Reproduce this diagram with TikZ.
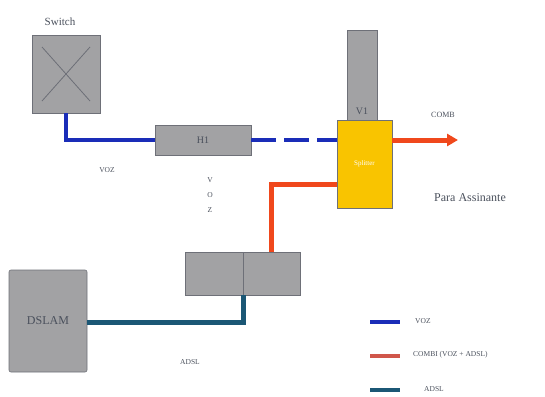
\documentclass[tikz,border=0pt]{standalone}
\usepackage{fontspec}
\setmainfont{Liberation Serif}
\usetikzlibrary{arrows.meta}
\definecolor{boxgray}{HTML}{A2A2A4}
\definecolor{edgegray}{HTML}{6E7078}
\definecolor{vozblue}{HTML}{1A2DB8}
\definecolor{combred}{HTML}{F0481C}
\definecolor{legred}{HTML}{D0564A}
\definecolor{adslteal}{HTML}{1B5775}
\definecolor{splyellow}{HTML}{F9C400}
\definecolor{txtgray}{HTML}{4A505C}
\tikzset{
  graybox/.style={draw=edgegray, line width=0.6pt, fill=boxgray, inner sep=0pt},
  lbl/.style={text=txtgray, inner sep=0pt, font=\fontsize{7.5}{8}\selectfont},
  vozline/.style={draw=vozblue, line width=4pt},
  combline/.style={draw=combred, line width=5pt},
  adslline/.style={draw=adslteal, line width=5pt},
}
\begin{document}
\begin{tikzpicture}[x=1pt,y=-1pt]
\useasboundingbox (0,0) rectangle (545,396);
% switch
\node[graybox, minimum width=68pt, minimum height=78pt] (switch) at (66,74) {};
\draw[edgegray, line width=0.8pt] (switch.center) ++(-24,-27) -- ++(48,54);
\draw[edgegray, line width=0.8pt] (switch.center) ++(24,-27) -- ++(-48,54);
\node[lbl, font=\fontsize{11}{12}\selectfont] (swlbl) at (60,22) {Switch};
% H1
\node[graybox, minimum width=96pt, minimum height=30pt, text=txtgray, font=\fontsize{10}{11}\selectfont] (h1) at (203,140) {H1};
% V1
\node[graybox, minimum width=30pt, minimum height=90pt] (v1) at (362,75) {};
\node[lbl, font=\fontsize{10}{11}\selectfont] (v1lbl) at (362,111) {V1};
% splitter
\node[draw=edgegray, line width=0.6pt, fill=splyellow, minimum width=55pt, minimum height=88pt, inner sep=0pt, text=white, font=\fontsize{7}{8}\selectfont] (splitter) at (364.5,164) {Splitter};
% bottom box
\node[graybox, minimum width=58pt, minimum height=43pt] (boxL) at (214,273.5) {};
\node[graybox, minimum width=57pt, minimum height=43pt] (boxR) at (271.5,273.5) {};
% DSLAM
\node[graybox, rounded corners=2pt, minimum width=78pt, minimum height=102pt, text=txtgray, font=\fontsize{12}{13}\selectfont] (dslam) at (48,321) {DSLAM};
% connectors
\draw[vozline] (switch.south) |- (h1.west);
\draw[vozline, dash pattern=on 25pt off 8pt] (h1.east) -- (splitter.west |- h1.east);
\coordinate (arrowend) at (458,140);
\draw[combline, -{Triangle[length=11pt, width=12pt]}] (splitter.east |- h1.east) -- (arrowend);
\coordinate (sp2) at (337,184);
\draw[combline] (sp2) -| (boxR.north);
\coordinate (tealend) at (243,295);
\coordinate (dsout) at (87,322);
\draw[adslline] (dsout) -| (tealend);
% labels
\node[lbl] (vozlbl) at (107,170) {VOZ};
\node[lbl, align=center, font=\fontsize{7.5}{15}\selectfont] (vozv) at (210,195) {V\\O\\Z};
\node[lbl, font=\fontsize{8}{9}\selectfont] (comblbl) at (443,115) {COMB};
\node[lbl, font=\fontsize{12}{13}\selectfont] (paralbl) at (470,198) {Para Assinante};
\node[lbl] (adsllbl) at (190,362) {ADSL};
% legend
\coordinate (l1a) at (370,322); \coordinate (l1b) at (400,322);
\coordinate (l2a) at (370,356); \coordinate (l2b) at (400,356);
\coordinate (l3a) at (370,390); \coordinate (l3b) at (400,390);
\draw[draw=vozblue, line width=4pt] (l1a) -- (l1b);
\draw[draw=legred, line width=4pt] (l2a) -- (l2b);
\draw[draw=adslteal, line width=4pt] (l3a) -- (l3b);
\node[lbl, anchor=west] (leg1) at (415,321) {VOZ};
\node[lbl, anchor=west] (leg2) at (413,355) {COMBI (VOZ + ADSL)};
\node[lbl, anchor=west] (leg3) at (424,389) {ADSL};
\end{tikzpicture}
\end{document}
